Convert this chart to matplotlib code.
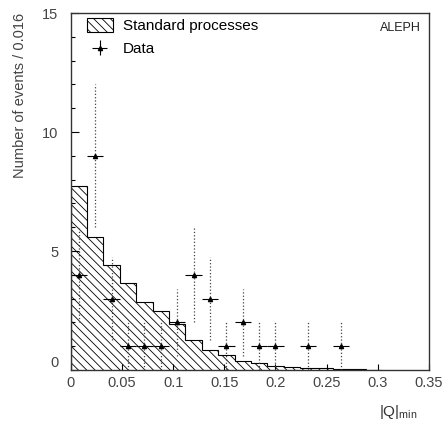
import numpy as np
import matplotlib
matplotlib.use("Agg")
import matplotlib.pyplot as plt
from matplotlib.patches import Patch
from matplotlib.ticker import MultipleLocator
from matplotlib.transforms import ScaledTranslation

plt.rcParams['font.family'] = ['Liberation Sans', 'DejaVu Sans']
plt.rcParams['mathtext.fontset'] = 'custom'
plt.rcParams['mathtext.rm'] = 'Liberation Sans'
plt.rcParams['hatch.linewidth'] = 0.6

# values
bin_width = 0.016
mc_counts = [7.75, 5.6, 4.4, 3.65, 2.85, 2.5, 1.95, 1.28, 0.85, 0.62,
             0.38, 0.28, 0.18, 0.14, 0.10, 0.07, 0.05, 0.03, 0.02]
data_counts = [4, 9, 3, 1, 1, 1, 2, 4, 3, 1, 2, 1, 1, 0, 1, 0, 1]

x_ticks = [0, 0.05, 0.1, 0.15, 0.2, 0.25, 0.3, 0.35]
x_tick_labels = ['0', '0.05', '0.1', '0.15', '0.2', '0.25', '0.3', '0.35']
y_ticks = [0, 5, 10, 15]
y_tick_labels = ['0', '5', '10', '15']

hatch = '\\\\\\\\'

edges = np.arange(len(mc_counts) + 1) * bin_width
centers = (np.arange(len(data_counts)) + 0.5) * bin_width
counts = np.array(data_counts, dtype=float)
keep = counts > 0

fig = plt.figure(figsize=(4.46, 4.25), dpi=100)
ax = fig.add_axes([0.1585, 0.1294, 0.8035, 0.84])

ax.stairs(mc_counts, edges, fill=True, facecolor='white', edgecolor='black',
          hatch=hatch, linewidth=0.8)

eb = ax.errorbar(centers[keep], counts[keep], xerr=bin_width / 2,
                 yerr=np.sqrt(counts[keep]), fmt='^', ms=3, color='black',
                 ecolor='black', elinewidth=0.8, capsize=0)
eb.lines[2][1].set_linestyle(':')
eb.lines[2][1].set_color('#444444')
eb.lines[2][1].set_linewidth(0.9)

hatch_patch = Patch(facecolor='white', edgecolor='black', hatch=hatch, linewidth=0.8)
ax.legend([hatch_patch, eb], ['Standard processes', 'Data'], loc='upper left',
          bbox_to_anchor=(0.045, 0.985), frameon=False, fontsize=11,
          borderpad=0, borderaxespad=0, handlelength=1.7, handleheight=0.95,
          handletextpad=0.65, labelspacing=0.55)

ax.text(0.977, 0.958, 'ALEPH', transform=ax.transAxes, ha='right', va='center',
        fontsize=9, color='#222222')

ax.set_xlim(0, 0.35)
ax.set_ylim(0, 15)
ax.set_xticks(x_ticks, x_tick_labels)
ax.set_yticks(y_ticks, y_tick_labels)
ax.yaxis.set_minor_locator(MultipleLocator(1))
ax.tick_params(which='both', direction='in', top=False, right=False,
               width=0.8, labelsize=10.5, labelcolor='#444444')
ax.tick_params(axis='y', which='major', length=6, pad=9)
ax.tick_params(axis='y', which='minor', length=3)
ax.tick_params(axis='x', which='major', length=4, pad=4.5)
for s in ax.spines.values():
    s.set_linewidth(1.0)
    s.set_color('#333333')

# the "0" on the y axis sits a little above the axis line in the original
zero_tick = ax.yaxis.get_major_ticks()[0]
zero_tick.label1.set_transform(zero_tick.label1.get_transform() +
                               ScaledTranslation(0, 0.09, fig.dpi_scale_trans))

ax.set_ylabel('Number of events / 0.016', loc='top', fontsize=10.5, color='#444444')
ax.yaxis.set_label_coords(-0.122, 1.0)
ax.set_xlabel('|Q|$_{\\mathrm{min}}$', loc='right', fontsize=11, color='#333333')
ax.xaxis.set_label_coords(0.969, -0.092)

fig.savefig('out.png', dpi=100)
